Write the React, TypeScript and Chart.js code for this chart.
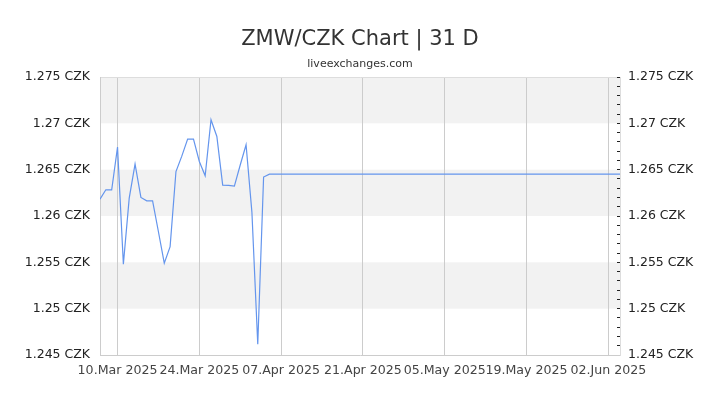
import { useEffect, useRef } from "react";
import { Chart, registerables, type Plugin } from "chart.js";

Chart.register(...registerables);

const chartTitle = "ZMW/CZK Chart | 31 D";
const chartSubtitle = "liveexchanges.com";

// daily rates, last point is the flat tail up to the axis end
const dates = [
  "2025-03-07", "2025-03-08", "2025-03-09", "2025-03-10", "2025-03-11",
  "2025-03-12", "2025-03-13", "2025-03-14", "2025-03-15", "2025-03-16",
  "2025-03-17", "2025-03-18", "2025-03-19", "2025-03-20", "2025-03-21",
  "2025-03-22", "2025-03-23", "2025-03-24", "2025-03-25", "2025-03-26",
  "2025-03-27", "2025-03-28", "2025-03-29", "2025-03-30", "2025-03-31",
  "2025-04-01", "2025-04-02", "2025-04-03", "2025-04-04", "2025-04-05",
  "2025-06-04",
];
const rates = [
  1.26182, 1.26283, 1.26283, 1.26744, 1.2548,
  1.26193, 1.2656, 1.262, 1.26164, 1.26164,
  1.2583, 1.25491, 1.2567, 1.2648, 1.26646,
  1.2683, 1.2683, 1.26588, 1.26434, 1.27039,
  1.26858, 1.26333, 1.2633, 1.26322, 1.2655,
  1.26769, 1.2604, 1.24616, 1.2642, 1.26452,
  1.26452,
];

const axisStart = "2025-03-07";
const axisEnd = "2025-06-04";
const xTickDates = ["2025-03-10", "2025-03-24", "2025-04-07", "2025-04-21", "2025-05-05", "2025-05-19", "2025-06-02"];
const xTickLabels = ["10.Mar 2025", "24.Mar 2025", "07.Apr 2025", "21.Apr 2025", "05.May 2025", "19.May 2025", "02.Jun 2025"];

const yMin = 1.245;
const yMax = 1.275;
const yMajorStep = 0.005;
const yMinorStep = 0.001;

const toDay = (s: string) => Date.parse(s + "T00:00:00Z") / 86400000;
const fmtRate = (v: number) => `${parseFloat(v.toFixed(3))} CZK`;

// alternate grey bands between the major y ticks
const bandsPlugin: Plugin = {
  id: "bands",
  beforeDraw(chart) {
    const y = chart.scales.y;
    const { left, right } = chart.chartArea;
    const ctx = chart.ctx;
    ctx.save();
    ctx.fillStyle = "#f2f2f2";
    y.ticks.forEach((t, i) => {
      if (i % 2 === 1 && i < y.ticks.length - 1) {
        const y1 = y.getPixelForValue(t.value);
        const y2 = y.getPixelForValue(y.ticks[i + 1].value);
        ctx.fillRect(left, y2, right - left, y1 - y2);
      }
    });
    ctx.restore();
  },
};

export default function App() {
  const canvasRef = useRef<HTMLCanvasElement>(null);

  useEffect(() => {
    if (!canvasRef.current) return;
    Chart.defaults.font.family = "'DejaVu Sans', sans-serif";

    const chart = new Chart(canvasRef.current, {
      type: "line",
      data: {
        datasets: [
          {
            data: dates.map((d, i) => ({ x: toDay(d), y: rates[i] })),
            borderColor: "#6495ed",
            borderWidth: 1.2,
            pointRadius: 0,
            tension: 0,
            fill: false,
          },
        ],
      },
      options: {
        animation: false,
        responsive: true,
        maintainAspectRatio: false,
        layout: { padding: 0 },
        plugins: {
          legend: { display: false },
          tooltip: { enabled: false },
          title: {
            display: true,
            text: chartTitle,
            color: "#333",
            font: { size: 21, weight: "normal" },
            padding: { top: 27.4, bottom: 4.8 },
          },
          subtitle: {
            display: true,
            text: chartSubtitle,
            color: "#333",
            font: { size: 11 },
            padding: { top: 0, bottom: 6.4 },
          },
        },
        scales: {
          x: {
            type: "linear",
            min: toDay(axisStart),
            max: toDay(axisEnd),
            afterBuildTicks: (scale) => {
              scale.ticks = xTickDates.map((d) => ({ value: toDay(d) }));
            },
            afterFit: (scale) => {
              scale.height = 50;
            },
            ticks: {
              autoSkip: false,
              maxRotation: 0,
              padding: 8,
              color: "#444",
              font: { size: 12.6 },
              callback: (_v, i) => xTickLabels[i],
            },
            grid: { color: "#ccc", drawTicks: false },
            border: { color: "#ccc" },
          },
          y: {
            position: "left",
            min: yMin,
            max: yMax,
            afterFit: (scale) => {
              scale.width = 100;
            },
            ticks: {
              stepSize: yMajorStep,
              padding: 10,
              color: "#222",
              font: { size: 12.5 },
              callback: (v) => fmtRate(Number(v)),
            },
            grid: {
              drawTicks: false,
              color: (c) => (c.tick && Math.abs(c.tick.value - yMax) < 1e-9 ? "#ddd" : "rgba(0,0,0,0)"),
            },
            border: { color: "#ccc" },
          },
          y2: {
            position: "right",
            min: yMin,
            max: yMax,
            afterFit: (scale) => {
              scale.width = 100;
            },
            ticks: {
              stepSize: yMinorStep,
              maxTicksLimit: 100,
              autoSkip: false,
              padding: 11,
              color: "#222",
              font: { size: 12.5 },
              callback: (v) => {
                const n = Number(v);
                return Math.round(n * 1000) % 5 === 0 ? fmtRate(n) : "";
              },
            },
            grid: {
              drawOnChartArea: false,
              drawTicks: true,
              tickLength: -3,
              color: "#222",
            },
            border: { color: "#ddd" },
          },
        },
      },
      plugins: [bandsPlugin],
    });

    return () => chart.destroy();
  }, []);

  return (
    <div style={{ position: "fixed", left: 0, top: 0, width: 720, height: 405, background: "#fff" }}>
      <canvas ref={canvasRef} />
    </div>
  );
}
